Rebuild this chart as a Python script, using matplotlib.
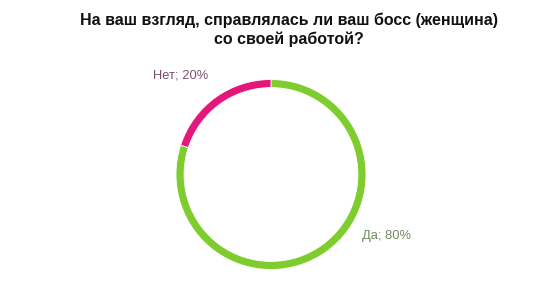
import matplotlib
matplotlib.use("Agg")
import matplotlib.pyplot as plt

plt.rcParams['font.family'] = ['Liberation Sans', 'DejaVu Sans']

# Data
labels = ["Да", "Нет"]
shares = [80, 20]
colors = ["#7fcc2e", "#e5177a"]
label_colors = ["#6f8a5f", "#7a4f6e"]
title = "На ваш взгляд, справлялась ли ваш босс (женщина)\nсо своей работой?"

W, H = 543, 304
fig = plt.figure(figsize=(W / 100, H / 100), dpi=100)

# ring centred near (271, 174) px, outer radius ~95 px
cx, cy, r = 271, 174.5, 95
ax = fig.add_axes([(cx - r) / W, (H - cy - r) / H, 2 * r / W, 2 * r / H])
ax.pie(shares, colors=colors, startangle=90, counterclock=False, radius=1,
       wedgeprops=dict(width=0.085, edgecolor="white", linewidth=0.6))
ax.set_xlim(-1, 1)
ax.set_ylim(-1, 1)
ax.set_aspect("equal")
ax.axis("off")

fig.text(288.5 / W, 1 - 30 / H, title, ha="center", va="center",
         fontsize=11.5, fontweight="bold", linespacing=1.3, color="#111111")

# data labels
fig.text(153 / W, 1 - 75 / H, f"{labels[1]}; {shares[1]}%", ha="left",
         va="center", fontsize=9.3, color=label_colors[1])
fig.text(362 / W, 1 - 236 / H, f"{labels[0]}; {shares[0]}%", ha="left",
         va="center", fontsize=9.3, color=label_colors[0])

fig.savefig("out.png", dpi=100)
